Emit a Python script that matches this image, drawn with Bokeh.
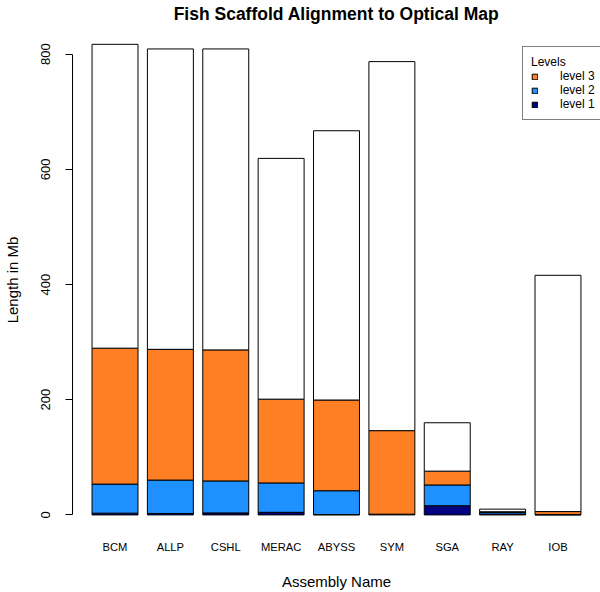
from bokeh.plotting import figure
from bokeh.models import FactorRange, Range1d, FixedTicker, Legend, LegendItem, ColumnDataSource
from bokeh.embed import file_html
from bokeh.resources import INLINE

# ---- data (Mb) ----
assemblies = ["BCM", "ALLP", "CSHL", "MERAC", "ABYSS", "SYM", "SGA", "RAY", "IOB"]
level1 = [3, 2.5, 3.5, 4.5, 0.5, 1, 16, 1.5, 0.3]
level2 = [50.5, 58, 55.5, 51, 41.5, 0.3, 36, 3, 0.5]
level3 = [236, 227, 227.5, 145.5, 157.5, 145, 24, 1, 5]
total_length = [817, 809, 809, 619, 667, 787, 160, 10, 416]
y_ticks = [0, 200, 400, 600, 800]

unaligned = [t - a - b - c for t, a, b, c in zip(total_length, level1, level2, level3)]

source = ColumnDataSource(dict(assembly=assemblies, level1=level1, level2=level2,
                               level3=level3, unaligned=unaligned))

FONT = "Liberation Sans"

p = figure(width=600, height=592, output_backend="svg", toolbar_location=None,
           x_range=FactorRange(*assemblies, range_padding=0.0595),
           y_range=Range1d(-28.8, 844.5),
           min_border_left=71, min_border_right=0, min_border_top=0, min_border_bottom=0,
           title="Fish Scaffold Alignment to Optical Map")

renderers = p.vbar_stack(["level1", "level2", "level3", "unaligned"], x="assembly", width=0.83,
                         color=["#000080", "#1E90FF", "#FF7F24", "#FFFFFF"],
                         line_color="black", line_width=1, source=source)

p.title.align = "center"
p.title.vertical_align = "top"
p.title.text_font = FONT
p.title.text_font_size = "17.5px"
p.title.text_font_style = "bold"
p.title.text_color = "black"
p.title.standoff = 6

p.outline_line_color = None
p.xgrid.grid_line_color = None
p.ygrid.grid_line_color = None
p.background_fill_color = "white"
p.border_fill_color = "white"

xa = p.xaxis[0]
xa.axis_line_color = None
xa.major_tick_line_color = None
xa.minor_tick_line_color = None
xa.major_tick_out = 0
xa.major_tick_in = 0
xa.major_label_standoff = 9
xa.major_label_text_font = FONT
xa.major_label_text_font_size = "11.2px"
xa.major_label_text_color = "black"
xa.axis_label = "Assembly Name"
xa.axis_label_text_font = FONT
xa.axis_label_text_font_size = "15px"
xa.axis_label_text_font_style = "normal"
xa.axis_label_text_color = "black"
xa.axis_label_standoff = 17

ya = p.yaxis[0]
ya.bounds = (0, 800)
ya.ticker = FixedTicker(ticks=y_ticks)
ya.major_tick_out = 7
ya.major_tick_in = 0
ya.minor_tick_line_color = None
ya.axis_line_color = "black"
ya.major_tick_line_color = "black"
ya.major_label_orientation = "vertical"
ya.major_label_standoff = 15
ya.major_label_text_font = FONT
ya.major_label_text_font_size = "13px"
ya.major_label_text_color = "black"
ya.axis_label = "Length in Mb"
ya.axis_label_text_font = FONT
ya.axis_label_text_font_size = "15px"
ya.axis_label_text_font_style = "normal"
ya.axis_label_text_color = "black"
ya.axis_label_standoff = 18

legend = Legend(items=[LegendItem(label="level 3", renderers=[renderers[2]]),
                       LegendItem(label="level 2", renderers=[renderers[1]]),
                       LegendItem(label="level 1", renderers=[renderers[0]])],
                title="Levels", location=(450, 411))
legend.title_text_font = FONT
legend.title_text_font_size = "12px"
legend.title_text_font_style = "normal"
legend.title_text_color = "black"
legend.title_standoff = 0
legend.label_text_font = FONT
legend.label_text_font_size = "12px"
legend.label_text_color = "black"
legend.label_height = 14
legend.label_standoff = 22
legend.glyph_width = 7
legend.glyph_height = 7
legend.spacing = 0
legend.padding = 8
legend.margin = 0
legend.border_line_color = "black"
legend.border_line_width = 1
legend.background_fill_color = "white"
legend.background_fill_alpha = 1
p.add_layout(legend)

open("out.html", "w").write(file_html(p, INLINE))
